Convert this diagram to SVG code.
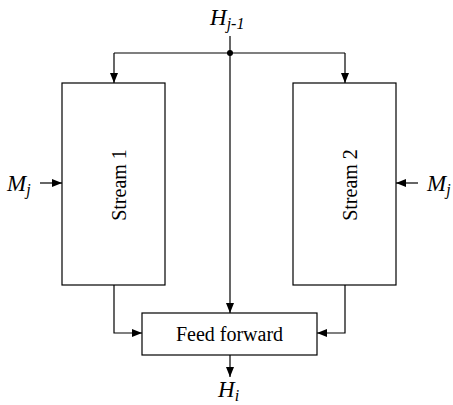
<svg xmlns="http://www.w3.org/2000/svg" width="453" height="405" viewBox="0 0 453 405">
<style>
.box{fill:#fff;stroke:#000;stroke-width:1.2}
.ln{fill:none;stroke:#000;stroke-width:1.2}
.lbl{font-family:"Liberation Serif",serif;font-size:20px;fill:#000}
.var{font-family:"Liberation Serif",serif;font-style:italic;font-size:23px;fill:#000}
.sub{font-size:16px}
</style>
<defs>
<marker id="ah" viewBox="0 0 10 10" refX="10" refY="5" markerWidth="10" markerHeight="10" markerUnits="userSpaceOnUse" orient="auto">
<path d="M0,1 L10,5 L0,9 Z" fill="#000"/>
</marker>
</defs>
<rect width="453" height="405" fill="#fff"/>
<g id="connectors">
<line class="ln" x1="230" y1="36" x2="230" y2="313" marker-end="url(#ah)"/>
<polyline class="ln" points="114,53 345,53"/>
<line class="ln" x1="114" y1="53" x2="114" y2="83" marker-end="url(#ah)"/>
<line class="ln" x1="345" y1="53" x2="345" y2="83" marker-end="url(#ah)"/>
<circle cx="230" cy="53" r="3" fill="#000"/>
<line class="ln" x1="40" y1="183" x2="62" y2="183" marker-end="url(#ah)"/>
<line class="ln" x1="418" y1="183" x2="396" y2="183" marker-end="url(#ah)"/>
<polyline class="ln" points="114,285 114,333 142,333" marker-end="url(#ah)"/>
<polyline class="ln" points="345,285 345,333 317,333" marker-end="url(#ah)"/>
<line class="ln" x1="230" y1="355" x2="230" y2="377" marker-end="url(#ah)"/>
</g>
<g id="stream1">
<rect class="box" x="62" y="83" width="103" height="202"/>
<text class="lbl" transform="translate(126,185) rotate(-90)" text-anchor="middle">Stream 1</text>
</g>
<g id="stream2">
<rect class="box" x="293" y="83" width="103" height="202"/>
<text class="lbl" transform="translate(357,185) rotate(-90)" text-anchor="middle">Stream 2</text>
</g>
<g id="feedforward">
<rect class="box" x="142" y="313" width="175" height="42"/>
<text class="lbl" x="229.5" y="341" text-anchor="middle">Feed forward</text>
</g>
<g id="labels">
<text class="var" x="210" y="25">H<tspan class="sub" dy="4">j-1</tspan></text>
<text class="var" x="7" y="191">M<tspan class="sub" dy="4">j</tspan></text>
<text class="var" x="427" y="191">M<tspan class="sub" dy="4">j</tspan></text>
<text class="var" x="218" y="397">H<tspan class="sub" dy="4">i</tspan></text>
</g>
</svg>
